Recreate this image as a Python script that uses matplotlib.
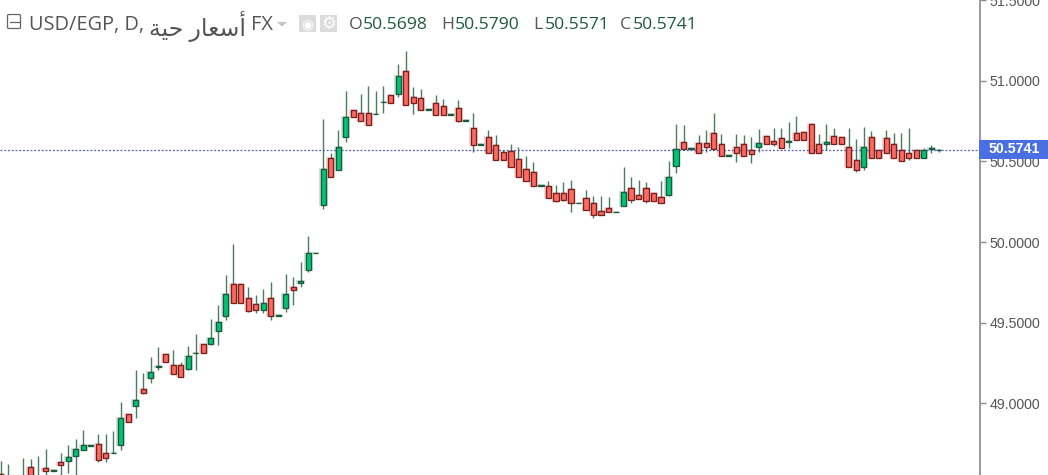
import numpy as np
import matplotlib
matplotlib.use('Agg')
import matplotlib.pyplot as plt
from matplotlib.patches import Rectangle, FancyBboxPatch, Polygon
from matplotlib.ticker import FormatStrFormatter

# daily candles
opens = [48.562, 48.497, 48.516, 48.497, 48.602, 48.509, 48.596, 48.578, 48.635, 48.640,
         48.671, 48.708, 48.733, 48.743, 48.688, 48.687, 48.741, 48.930, 48.981, 49.085,
         49.153, 49.223, 49.302, 49.234, 49.234, 49.213, 49.309, 49.365, 49.368, 49.447,
         49.540, 49.737, 49.737, 49.650, 49.613, 49.580, 49.650, 49.540, 49.588, 49.720,
         49.743, 49.826, 49.930, 50.232, 50.520, 50.449, 50.652, 50.822, 50.799, 50.799,
         50.793, 50.868, 50.915, 50.921, 51.064, 50.901, 50.893, 50.820, 50.861, 50.847,
         50.789, 50.830, 50.751, 50.706, 50.602, 50.652, 50.604, 50.559, 50.567, 50.514,
         50.452, 50.435, 50.348, 50.350, 50.302, 50.302, 50.327, 50.240, 50.271, 50.240,
         50.194, 50.209, 50.184, 50.224, 50.334, 50.294, 50.334, 50.302, 50.280, 50.294,
         50.474, 50.621, 50.580, 50.613, 50.613, 50.675, 50.607, 50.534, 50.590, 50.607,
         50.573, 50.590, 50.660, 50.629, 50.644, 50.621, 50.675, 50.683, 50.731, 50.607,
         50.607, 50.660, 50.652, 50.590, 50.511, 50.466, 50.652, 50.573, 50.644, 50.607,
         50.573, 50.551, 50.573, 50.520, 50.578, 50.5698]
highs = [48.640, 48.621, 48.534, 48.660, 48.652, 48.671, 48.714, 48.582, 48.691, 48.739,
         48.775, 48.832, 48.737, 48.807, 48.807, 48.824, 49.004, 48.930, 49.205, 49.188,
         49.284, 49.346, 49.302, 49.329, 49.253, 49.352, 49.429, 49.365, 49.522, 49.609,
         49.795, 49.988, 49.737, 49.722, 49.671, 49.706, 49.750, 49.544, 49.801, 49.784,
         49.878, 50.037, 49.934, 50.764, 50.555, 50.696, 50.938, 50.822, 50.919, 50.967,
         50.938, 50.967, 50.915, 51.106, 51.186, 50.961, 50.948, 50.824, 50.913, 50.886,
         50.793, 50.882, 50.755, 50.803, 50.606, 50.696, 50.665, 50.571, 50.609, 50.588,
         50.534, 50.495, 50.352, 50.379, 50.354, 50.371, 50.385, 50.244, 50.323, 50.286,
         50.286, 50.278, 50.188, 50.468, 50.402, 50.385, 50.371, 50.302, 50.379, 50.503,
         50.733, 50.727, 50.584, 50.665, 50.696, 50.803, 50.671, 50.538, 50.671, 50.665,
         50.650, 50.702, 50.660, 50.710, 50.710, 50.747, 50.783, 50.683, 50.731, 50.671,
         50.733, 50.710, 50.652, 50.710, 50.640, 50.716, 50.688, 50.573, 50.696, 50.679,
         50.679, 50.710, 50.573, 50.586, 50.602, 50.5790]
lows = [48.509, 48.460, 48.460, 48.472, 48.484, 48.484, 48.534, 48.578, 48.522, 48.567,
        48.522, 48.708, 48.733, 48.632, 48.635, 48.687, 48.708, 48.880, 48.909, 49.058,
        49.126, 49.205, 49.253, 49.182, 49.160, 49.205, 49.205, 49.309, 49.360, 49.360,
        49.516, 49.619, 49.619, 49.563, 49.557, 49.557, 49.516, 49.540, 49.567, 49.609,
        49.722, 49.816, 49.930, 50.207, 50.404, 50.449, 50.623, 50.775, 50.752, 50.729,
        50.793, 50.803, 50.861, 50.902, 50.853, 50.797, 50.822, 50.820, 50.791, 50.791,
        50.789, 50.743, 50.751, 50.557, 50.602, 50.551, 50.511, 50.511, 50.466, 50.404,
        50.381, 50.350, 50.348, 50.271, 50.247, 50.253, 50.188, 50.240, 50.201, 50.151,
        50.170, 50.186, 50.184, 50.224, 50.240, 50.270, 50.240, 50.257, 50.240, 50.286,
        50.427, 50.580, 50.580, 50.551, 50.557, 50.580, 50.536, 50.534, 50.499, 50.536,
        50.489, 50.557, 50.607, 50.596, 50.582, 50.586, 50.635, 50.635, 50.551, 50.551,
        50.571, 50.607, 50.607, 50.466, 50.437, 50.447, 50.520, 50.520, 50.551, 50.520,
        50.503, 50.509, 50.520, 50.520, 50.555, 50.5571]
closes = [48.534, 48.534, 48.491, 48.534, 48.509, 48.534, 48.578, 48.582, 48.615, 48.666,
          48.712, 48.737, 48.737, 48.646, 48.660, 48.691, 48.905, 48.880, 49.017, 49.064,
          49.193, 49.227, 49.253, 49.182, 49.160, 49.294, 49.313, 49.309, 49.404, 49.505,
          49.675, 49.619, 49.619, 49.571, 49.580, 49.619, 49.540, 49.544, 49.675, 49.704,
          49.760, 49.930, 49.934, 50.452, 50.404, 50.590, 50.776, 50.775, 50.752, 50.729,
          50.797, 50.872, 50.861, 51.033, 50.853, 50.861, 50.822, 50.824, 50.791, 50.791,
          50.793, 50.752, 50.755, 50.604, 50.606, 50.551, 50.511, 50.511, 50.466, 50.404,
          50.381, 50.350, 50.352, 50.271, 50.255, 50.263, 50.240, 50.244, 50.201, 50.170,
          50.170, 50.186, 50.188, 50.311, 50.263, 50.270, 50.257, 50.257, 50.240, 50.404,
          50.576, 50.580, 50.584, 50.551, 50.588, 50.580, 50.536, 50.538, 50.551, 50.536,
          50.545, 50.613, 50.607, 50.607, 50.582, 50.625, 50.635, 50.635, 50.551, 50.551,
          50.621, 50.607, 50.607, 50.466, 50.449, 50.590, 50.520, 50.520, 50.551, 50.520,
          50.503, 50.520, 50.520, 50.573, 50.582, 50.5741]
price_ticks = [49.0, 49.5, 50.0, 50.5, 51.0, 51.5]

title_parts = ['USD/EGP, D,', '\ufe94\ufef4\ufea3 \ufead\ufe8e\ufecc\ufeb3\ufe83', 'FX']
ohlc_labels = ['O', 'H', 'L', 'C']
ohlc_values = ['50.5698', '50.5790', '50.5571', '50.5741']

W, H = 1048, 475
FONT = ['Open Sans', 'DejaVu Sans']
TEXT_GREY = '#555555'
VALUE_GREEN = '#1f5a3c'
WICK = '#1f5a3f'

fig = plt.figure(figsize=(W / 100, H / 100), dpi=100, facecolor='white')
ax = fig.add_axes([0, 0, 979.5 / W, 1])

x = np.arange(len(opens))
o = np.array(opens)
c = np.array(closes)
up = c >= o

# pale halo around the bodies, like the compression smear in the screenshot
bottoms = np.minimum(o, c)
heights = np.abs(c - o)
ax.bar(x[~up], heights[~up], 0.9, bottoms[~up], color='#edcfcd', linewidth=1.2,
       edgecolor='#edcfcd', zorder=1.5)
ax.bar(x[up], heights[up], 0.9, bottoms[up], color='#c9d8d0', linewidth=1.2,
       edgecolor='#c9d8d0', zorder=1.5)

ax.vlines(x, lows, highs, color=WICK, linewidth=1.0, alpha=0.8, zorder=2)
ax.bar(x[~up], heights[~up], 0.68, bottoms[~up], color='#ff6a60', edgecolor='#74211f',
       linewidth=0.95, zorder=3)
ax.bar(x[up], heights[up], 0.68, bottoms[up], color='#00c673', edgecolor='#1a5a3e',
       linewidth=0.95, zorder=3)

# last price line
ax.axhline(closes[-1], color='#5058b8', linewidth=0.9, linestyle=(0, (1.5, 1.5)), zorder=2.5)

ax.set_xlim(-0.09, 130.44)
ax.set_ylim(48.553, 51.503)
ax.set_xticks([])
ax.yaxis.tick_right()
ax.set_yticks(price_ticks)
ax.yaxis.set_major_formatter(FormatStrFormatter('%.4f'))
ax.tick_params(axis='y', length=4.5, width=1, color='#8c8c8c', labelcolor='#555555',
               labelsize=10.2, pad=2.5)
for label in ax.get_yticklabels():
    label.set_family('Liberation Sans')
for side in ['top', 'left', 'bottom']:
    ax.spines[side].set_visible(False)
ax.spines['right'].set_color('#9a9a9a')
ax.spines['right'].set_linewidth(1.4)


def fx(px):
    return px / W


def fy(py):
    return 1 - py / H


# price tag on the axis
fig.canvas.draw()
tag_y = ax.transData.transform((0, closes[-1]))[1] / H
fig.add_artist(Rectangle((fx(979), tag_y - 9 / H), 69 / W, 19 / H, transform=fig.transFigure,
                         facecolor='#4a6fe3', edgecolor='none', zorder=4))
fig.text(fx(989), tag_y + 0.5 / H, '%.4f' % closes[-1], color='white', fontsize=10.2, fontweight='bold',
         family='Liberation Sans', va='center', ha='left', zorder=5)

# header: collapse button, title, caret, two icon buttons, OHLC
fig.add_artist(FancyBboxPatch((fx(7.5), fy(28.5)), 13 / W, 14 / H,
                              boxstyle='round,pad=0,rounding_size=0.002',
                              transform=fig.transFigure, facecolor='white', edgecolor='#666666',
                              linewidth=0.9, zorder=4))
fig.add_artist(plt.Line2D([fx(9.5), fx(18.5)], [fy(21.5), fy(21.5)], color='#666666', linewidth=0.9,
                          zorder=5))
fig.text(fx(29), fy(25), title_parts[0], color=TEXT_GREY, fontsize=14.4, family=FONT,
         va='center', ha='left')
fig.text(fx(245.5), fy(26), title_parts[1], color=TEXT_GREY, fontsize=17, family=FONT,
         va='center', ha='right')
fig.text(fx(272.5), fy(25), title_parts[2], color=TEXT_GREY, fontsize=14.4, family=FONT,
         va='center', ha='right')
fig.add_artist(Polygon([(fx(277), fy(22)), (fx(287), fy(22)), (fx(282), fy(26.5))],
                       transform=fig.transFigure, facecolor='#c4c4c4', edgecolor='none', zorder=4))
for left in [299, 320]:
    fig.add_artist(Rectangle((fx(left), fy(32)), 17 / W, 17 / H, transform=fig.transFigure,
                             facecolor='#dcdcdc', edgecolor='none', zorder=4))
fig.text(fx(307.5), fy(24), '\u25c9', color='white', fontsize=10, family='DejaVu Sans',
         va='center', ha='center', zorder=5)
fig.text(fx(328.5), fy(24), '\u2699', color='white', fontsize=12, family='DejaVu Sans',
         va='center', ha='center', zorder=5)

label_left = [349, 441, 533, 620]
value_left = [363, 455, 545, 633]
for name, value, lx, vx in zip(ohlc_labels, ohlc_values, label_left, value_left):
    fig.text(fx(lx), fy(25), name, color=TEXT_GREY, fontsize=12.6, family=FONT, va='center', ha='left')
    fig.text(fx(vx), fy(25), value, color=VALUE_GREEN, fontsize=12.6, family=FONT, va='center', ha='left')

fig.savefig('out.png', dpi=100, facecolor='white')
